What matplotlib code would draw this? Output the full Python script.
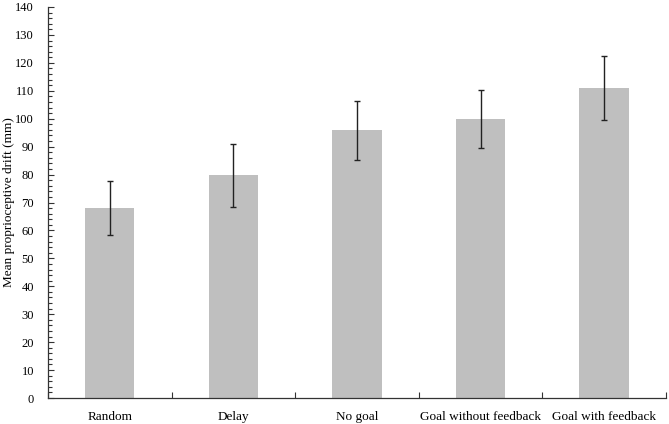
import matplotlib
matplotlib.use("Agg")
import matplotlib.pyplot as plt
import numpy as np
from matplotlib.ticker import MultipleLocator, FixedLocator

conditions = ["Random", "Delay", "No goal", "Goal without feedback", "Goal with feedback"]
mean_drift = [68.0, 79.7, 95.8, 99.9, 111.0]
sem_drift = [9.8, 11.3, 10.5, 10.3, 11.3]

plt.rcParams["font.family"] = ["Liberation Serif", "DejaVu Serif"]
plt.rcParams["font.size"] = 9.5

fig = plt.figure(figsize=(6.69, 4.24), dpi=100)
ax = fig.add_axes([0.0717, 0.0613, 0.9238, 0.9222])

x = np.arange(len(conditions))
ax.bar(x, mean_drift, width=0.4, color="#bfbfbf", zorder=1)
ax.errorbar(x, mean_drift, yerr=sem_drift, fmt="none", ecolor="#222222",
            elinewidth=1.0, capsize=2.5, capthick=1.0, zorder=2)

ax.set_xlim(-0.5, len(conditions) - 0.5)
ax.set_ylim(0, 140)
ax.yaxis.set_major_locator(MultipleLocator(10))
ax.yaxis.set_minor_locator(MultipleLocator(2))
ax.tick_params(axis="y", which="both", direction="in", length=3, width=0.8, color="#333333")
ax.tick_params(axis="y", which="major", length=4, labelsize=9, pad=10)

ax.set_xticks(x)
ax.set_xticklabels(conditions)
ax.xaxis.set_minor_locator(FixedLocator(np.arange(-0.5, len(conditions), 1.0)))
ax.tick_params(axis="x", which="major", length=0, pad=9)
ax.tick_params(axis="x", which="minor", direction="in", length=4, width=0.8, color="#333333")

for s in ["top", "right"]:
    ax.spines[s].set_visible(False)
for s in ["left", "bottom"]:
    ax.spines[s].set_color("#333333")
    ax.spines[s].set_linewidth(0.9)

fig.text(0.014, 1 - 202 / 424, "Mean proprioceptive drift (mm)", rotation=90,
         ha="center", va="center", fontsize=9.5)

fig.savefig("out.png", dpi=100)
